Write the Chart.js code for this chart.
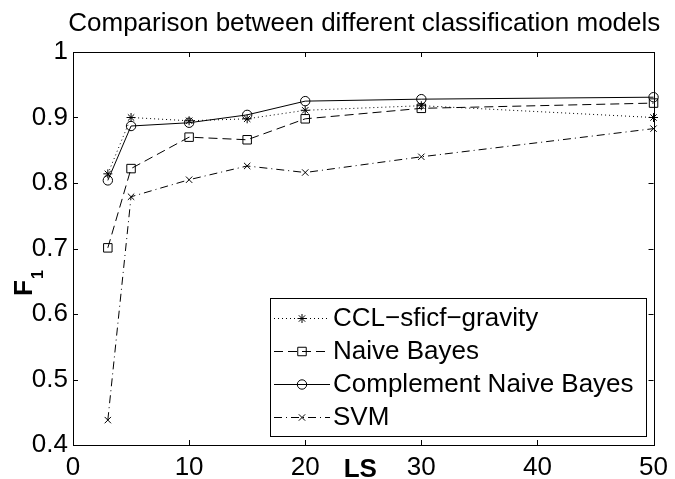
<!DOCTYPE html>
<html>
<head>
<meta charset="utf-8">
<script src="https://cdn.jsdelivr.net/npm/chart.js@4/dist/chart.umd.min.js"></script>
<style>
  html, body { margin: 0; padding: 0; background: #fff; }
  #wrap { width: 675px; height: 479px; }
</style>
</head>
<body>
<div id="wrap"><canvas id="chart" width="675" height="479"></canvas></div>
<script>
// LS values on the x axis
const ls = [3, 5, 10, 15, 20, 30, 50]

// F1 scores
const cclGravity = [0.814, 0.900, 0.895, 0.898, 0.911, 0.918, 0.900]
const naiveBayes = [0.701, 0.822, 0.870, 0.866, 0.898, 0.914, 0.922]
const complementNB = [0.804, 0.887, 0.892, 0.904, 0.925, 0.928, 0.931]
const svm = [0.438, 0.779, 0.805, 0.826, 0.816, 0.840, 0.883]

const xTicks = [0, 10, 20, 30, 40, 50]
const yTicks = [0.4, 0.5, 0.6, 0.7, 0.8, 0.9, 1]

const FONT = "'Liberation Sans', Arial, Helvetica, sans-serif"
const SIZE = 26

function series(values) {
  return ls.map((x, i) => ({ x: x, y: values[i] }))
}

function makeDataset(label, values, dash, style, radius) {
  return {
    label: label,
    data: series(values),
    borderColor: "#000",
    borderWidth: 1,
    borderDash: dash,
    pointStyle: style,
    pointRadius: radius,
    pointBorderColor: "#000",
    pointBorderWidth: 1,
    pointBackgroundColor: "rgba(0,0,0,0)",
    tension: 0,
    clip: false
  }
}

// frame, inward ticks, title, axis labels and legend, MATLAB style
const matlabLook = {
  id: "matlabLook",
  afterDraw(chart) {
    const ctx = chart.ctx
    const a = chart.chartArea
    const xs = chart.scales.x
    const ys = chart.scales.y
    const tick = 5

    ctx.save()
    ctx.strokeStyle = "#000"
    ctx.lineWidth = 1
    ctx.strokeRect(Math.round(a.left) + 0.5, Math.round(a.top) + 0.5,
      Math.round(a.right - a.left), Math.round(a.bottom - a.top))

    ctx.beginPath()
    xTicks.forEach(v => {
      const px = Math.round(xs.getPixelForValue(v)) + 0.5
      ctx.moveTo(px, a.bottom); ctx.lineTo(px, a.bottom - tick)
      ctx.moveTo(px, a.top); ctx.lineTo(px, a.top + tick)
    })
    yTicks.forEach(v => {
      const py = Math.round(ys.getPixelForValue(v)) + 0.5
      ctx.moveTo(a.left, py); ctx.lineTo(a.left + tick, py)
      ctx.moveTo(a.right, py); ctx.lineTo(a.right - tick, py)
    })
    ctx.stroke()

    // title
    ctx.fillStyle = "#000"
    ctx.font = SIZE + "px " + FONT
    ctx.textAlign = "center"
    ctx.textBaseline = "alphabetic"
    ctx.fillText("Comparison between different classification models", (a.left + a.right) / 2 + 1, 31)

    // x label
    ctx.font = "bold " + SIZE + "px " + FONT
    ctx.fillText("LS", (a.left + a.right) / 2 - 3, 477)

    // y label F1, rotated
    ctx.save()
    ctx.translate(32, 296)
    ctx.rotate(-Math.PI / 2)
    ctx.textAlign = "left"
    ctx.font = "bold " + SIZE + "px " + FONT
    ctx.fillText("F", 0, 0)
    const fw = ctx.measureText("F").width
    ctx.font = "bold 16px " + FONT
    ctx.fillText("1", fw + 1, 11)
    ctx.restore()

    // legend
    const lx = 270, ly = 298, lw = 376, lh = 138
    ctx.fillStyle = "#fff"
    ctx.fillRect(lx, ly, lw, lh)
    ctx.strokeRect(lx + 0.5, ly + 0.5, lw, lh)
    const rows = [318, 351, 384, 417]
    chart.data.datasets.forEach((ds, i) => {
      const y = rows[i] + 0.5
      ctx.save()
      ctx.strokeStyle = "#000"
      ctx.fillStyle = "rgba(0,0,0,0)"
      ctx.lineWidth = 1
      ctx.setLineDash(ds.borderDash || [])
      ctx.beginPath()
      ctx.moveTo(274, y)
      ctx.lineTo(330, y)
      ctx.stroke()
      ctx.setLineDash([])
      Chart.helpers.drawPoint(ctx, {
        pointStyle: ds.pointStyle,
        radius: ds.pointRadius,
        rotation: 0,
        borderWidth: 1
      }, 302, y)
      ctx.restore()
      ctx.fillStyle = "#000"
      ctx.font = SIZE + "px " + FONT
      ctx.textAlign = "left"
      ctx.textBaseline = "middle"
      ctx.fillText(ds.label, 333, rows[i] + 1)
    })
    ctx.restore()
  }
}

new Chart(document.getElementById("chart"), {
  type: "line",
  data: {
    datasets: [
      makeDataset("CCL\u2212sficf\u2212gravity", cclGravity, [1, 3], "star", 4.5),
      makeDataset("Naive Bayes", naiveBayes, [9, 5], "rect", 6),
      makeDataset("Complement Naive Bayes", complementNB, [], "circle", 4.7),
      makeDataset("SVM", svm, [8, 4, 1, 4], "crossRot", 4.5)
    ]
  },
  options: {
    responsive: false,
    animation: false,
    devicePixelRatio: 1,
    layout: { padding: { left: 0, right: 17, top: 52, bottom: 0 } },
    plugins: {
      legend: { display: false },
      title: { display: false },
      tooltip: { enabled: false }
    },
    scales: {
      x: {
        type: "linear",
        min: 0,
        max: 50,
        afterFit(scale) { scale.height = 34 },
        afterBuildTicks(scale) { scale.ticks = xTicks.map(v => ({ value: v })) },
        grid: { display: false, drawTicks: false },
        border: { display: false },
        ticks: {
          color: "#000",
          padding: 7,
          maxRotation: 0,
          font: { family: FONT, size: SIZE },
          callback: v => String(v)
        }
      },
      y: {
        min: 0.4,
        max: 1,
        afterFit(scale) { scale.width = 73 },
        afterBuildTicks(scale) { scale.ticks = yTicks.map(v => ({ value: v })) },
        grid: { display: false, drawTicks: false },
        border: { display: false },
        ticks: {
          color: "#000",
          padding: 5,
          font: { family: FONT, size: SIZE },
          callback: v => (v === 1 ? "1" : v.toFixed(1))
        }
      }
    }
  },
  plugins: [matlabLook]
})
</script>
</body>
</html>
